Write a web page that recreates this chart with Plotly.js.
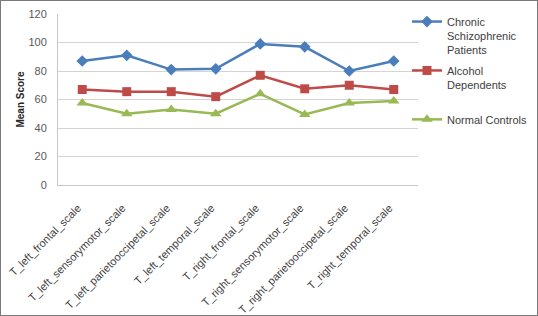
<!DOCTYPE html>
<html>
<head>
<meta charset="utf-8">
<script src="https://cdn.plot.ly/plotly-3.0.1.min.js"></script>
<style>
  html, body { margin: 0; padding: 0; background: #fff; }
  #wrap { position: relative; width: 538px; height: 316px; }
  #chart { width: 538px; height: 316px; }
  #frame { position: absolute; left: 0; top: 0; width: 538px; height: 316px; box-sizing: border-box; border: 1px solid #7a7a7a; pointer-events: none; }
</style>
</head>
<body>
<div id="wrap"><div id="chart"></div><div id="frame"></div></div>
<script>
const categories = [
  "T_left_frontal_scale",
  "T_left_sensorymotor_scale",
  "T_left_parietooccipetal_scale",
  "T_left_temporal_scale",
  "T_right_frontal_scale",
  "T_right_sensorymotor_scale",
  "T_right_parietooccipetal_scale",
  "T_right_temporal_scale"
];
const schizophrenic = [87, 91, 81, 81.5, 99, 97, 80, 87];
const alcohol = [67, 65.5, 65.5, 62, 77, 67.5, 70, 67];
const normal = [57.5, 50, 53, 50, 64, 49.5, 57.5, 59];
const seriesNames = ["Chronic<br>Schizophrenic<br>Patients", "Alcohol<br>Dependents<br>\u00a0", "Normal Controls<br>\u00a0<br>\u00a0"];
const yTicks = [0, 20, 40, 60, 80, 100, 120];

const font = "Liberation Sans, Arial, sans-serif";
const traces = [
  {x: categories, y: schizophrenic, name: seriesNames[0], legendgroup: "a", type: "scatter", mode: "lines+markers",
   line: {color: "#4A7EBB", width: 2.5}, marker: {symbol: "diamond", size: 9, color: "#4A7EBB"}},
  {x: categories, y: alcohol, name: seriesNames[1], legendgroup: "b", type: "scatter", mode: "lines+markers",
   line: {color: "#BE4B48", width: 2.5}, marker: {symbol: "square", size: 9, color: "#BE4B48"}},
  {x: categories, y: normal, name: seriesNames[2], legendgroup: "c", type: "scatter", mode: "lines+markers",
   line: {color: "#98B954", width: 2.5}, marker: {symbol: "triangle-up", size: 10, color: "#98B954"}}
];
const layout = {
  width: 538, height: 316,
  margin: {l: 58, r: 120, t: 14, b: 131, autoexpand: false},
  paper_bgcolor: "#fff", plot_bgcolor: "#fff",
  font: {family: font, size: 11, color: "#404040"},
  showlegend: true,
  legend: {xref: "container", yref: "container", x: 0.7565, xanchor: "left", y: 0.975, yanchor: "top", valign: "top",
           font: {family: font, size: 11, color: "#404040"}, itemwidth: 30, tracegroupgap: 3,
           bgcolor: "rgba(0,0,0,0)"},
  xaxis: {type: "category", tickangle: -45, showgrid: false, showline: true, linecolor: "#c8c8c8",
          tickmode: "array", tickvals: categories, ticktext: categories.map(c => c + "\u00a0\u00a0"),
          ticks: "outside", ticklen: 7, tickcolor: "rgba(0,0,0,0)",
          tickfont: {family: font, size: 11, color: "#404040"}, zeroline: false},
  yaxis: {range: [0, 120], tickvals: yTicks, showgrid: true, gridcolor: "#d4d4d4", gridwidth: 1,
          showline: true, linecolor: "#c8c8c8", ticks: "", zeroline: false, ticklabelstandoff: 8,
          tickfont: {family: font, size: 11, color: "#595959"},
          title: {text: "<b>Mean Score</b>", font: {family: font, size: 10, color: "#262626"}, standoff: 1}}
};
Plotly.newPlot("chart", traces, layout, {displayModeBar: false, staticPlot: true});
</script>
</body>
</html>
